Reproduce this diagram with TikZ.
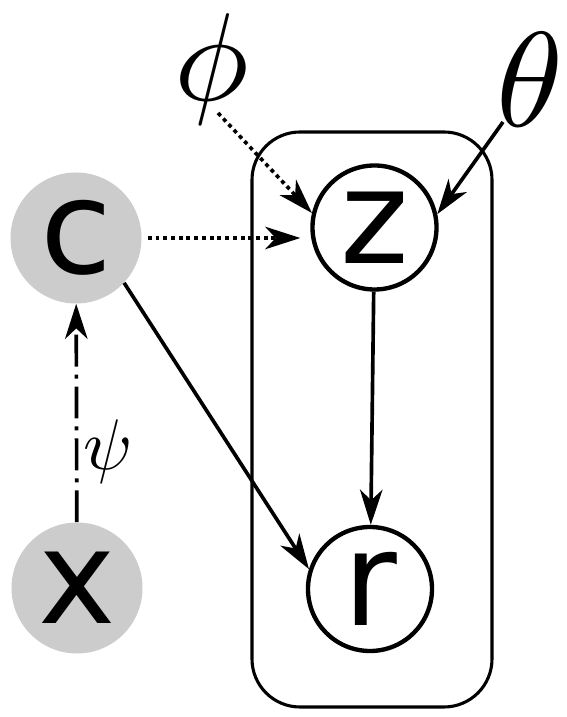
\documentclass[tikz,border=0pt]{standalone}
\usepackage{fontspec}
\newfontfamily\nodefont{DejaVu Sans}
\usetikzlibrary{calc,arrows.meta}
\tikzset{
	obsnode/.style={circle, fill=black!20, minimum size=3.275cm, inner sep=0pt, font=\nodefont\fontsize{93}{93}\selectfont},
	latnode/.style={circle, draw, line width=3.1pt, fill=white, minimum size=3.1cm, inner sep=0pt, font=\nodefont\fontsize{93}{93}\selectfont},
	parlabel/.style={inner sep=0pt},
	platebox/.style={line width=2.2pt, rounded corners=1.2cm},
	solidarrow/.style={line width=2.6pt, -{Stealth[length=25pt, width=16pt, inset=7.5pt]}},
	dotarrow/.style={solidarrow, dash pattern=on 2.8pt off 2.7pt},
	dashdotarrow/.style={solidarrow, dash pattern=on 22.7pt off 5.7pt on 2.8pt off 5.7pt}
}
\newcommand{\parsym}[2]{\scalebox{#1}{$#2$}}

\begin{document}
\begin{tikzpicture}
		%%%%% START %%%%%
		\useasboundingbox (0, 0) rectangle (14.175, 17.925);
		
		\draw[platebox] (6.3, 0.25) rectangle (12.3, 14.625);
		
		\node[obsnode] (c) at (1.9, 11.975) {c};
		\node[obsnode] (x) at (1.925, 3.225) {x};
		\node[latnode] (z) at (9.3625, 12.2375) {z};
		\node[latnode] (r) at (9.25, 3.2) {r};
		
		\node[parlabel] (phi) at (5.3, 16.2) {\parsym{8.9}{\phi}};
		\node[parlabel] (theta) at (13.25, 15.925) {\parsym{9.6}{\theta}};
		\node[parlabel] (psi) at (2.7, 6.625) {\parsym{5.1}{\psi}};
		
		\draw[dotarrow] ($(phi)+(0.15, -1.1)$) -- (z.167);
		\draw[solidarrow] ($(theta)+(-0.675, -1.05)$) -- (z.12);
		\draw[dotarrow, shorten <=0.15cm, shorten >=0.25cm] (c.east) -- (c.east -| z.west);
		
		\draw[solidarrow] (z) -- (r);
		\draw[solidarrow] (c.-43) -- (r.162);
		\draw[dashdotarrow] (x) -- (c);
		%%%%% END %%%%%
\end{tikzpicture}
\end{document}
